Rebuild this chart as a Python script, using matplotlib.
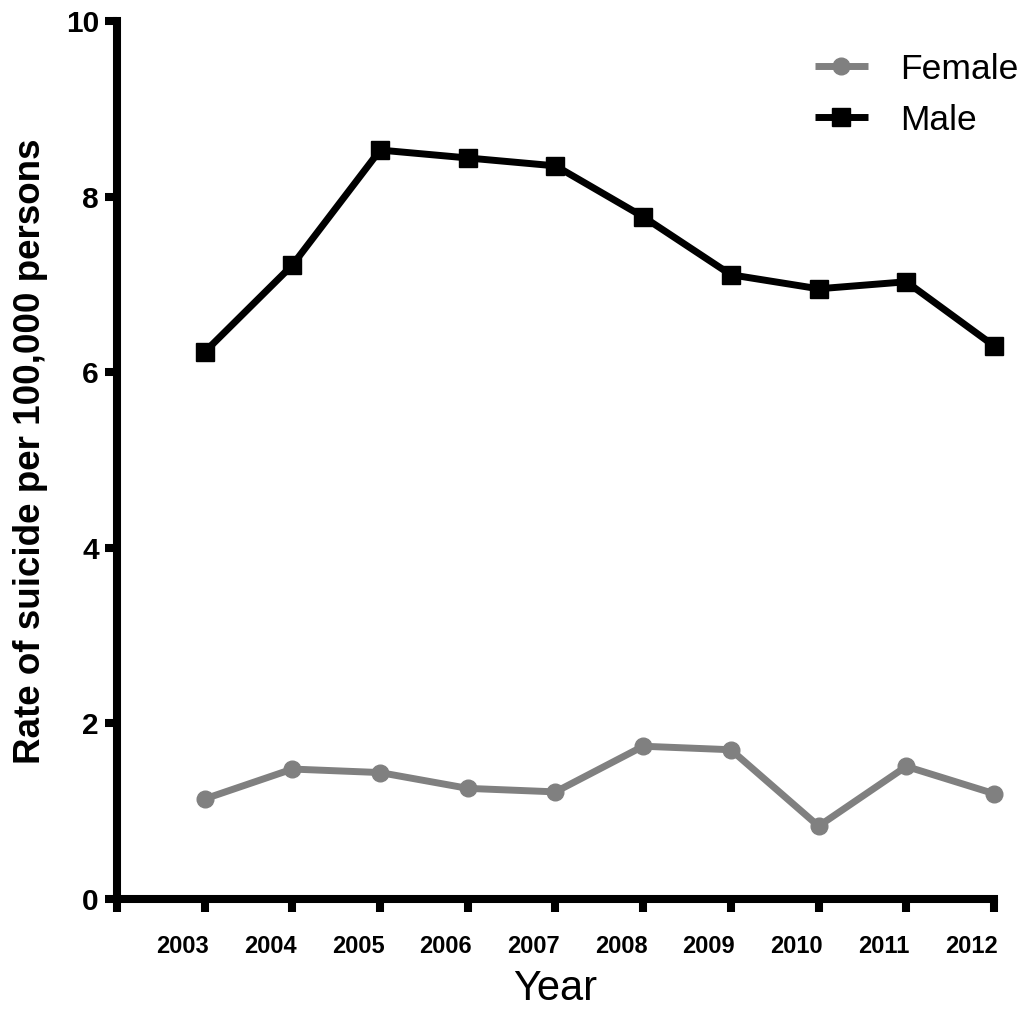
import matplotlib
matplotlib.use("Agg")
import matplotlib.pyplot as plt
from matplotlib.transforms import ScaledTranslation

years = [2003, 2004, 2005, 2006, 2007, 2008, 2009, 2010, 2011, 2012]
female = [1.14, 1.48, 1.44, 1.26, 1.22, 1.74, 1.70, 0.83, 1.51, 1.20]
male = [6.23, 7.22, 8.53, 8.44, 8.35, 7.77, 7.11, 6.95, 7.03, 6.30]
yticks = [0, 2, 4, 6, 8, 10]

plt.rcParams['font.family'] = ['Liberation Sans', 'DejaVu Sans']

fig = plt.figure(figsize=(10.24, 10.21), dpi=100)
ax = fig.add_axes([117/1024, 1-899/1021, (994-117)/1024, (899-21)/1021])

ax.plot(years, female, color='#808080', lw=5, marker='o', ms=12, label='Female',
        solid_capstyle='butt', clip_on=False, zorder=3)
ax.plot(years, male, color='black', lw=5, marker='s', ms=13, label='Male',
        solid_capstyle='butt', clip_on=False, zorder=3)

ax.set_xlim(2002, 2012)
ax.set_ylim(0, 10)
ax.set_yticks(yticks)
ax.set_yticklabels([str(v) for v in yticks], fontsize=21.5, fontweight='bold')
ax.set_xticks([2002] + years)
ax.set_xticklabels([''] + [str(y) for y in years], fontsize=17, fontweight='bold')

for s in ['top', 'right']:
    ax.spines[s].set_visible(False)
for s in ['left', 'bottom']:
    ax.spines[s].set_linewidth(5.8)
    ax.spines[s].set_capstyle('projecting')

ax.tick_params(axis='both', direction='out', length=9, width=5.8, color='black')
ax.tick_params(axis='x', pad=17)
ax.tick_params(axis='y', pad=4)

off = ScaledTranslation(-22/100, 0, fig.dpi_scale_trans)
for lab in ax.get_xticklabels():
    lab.set_transform(lab.get_transform() + off)

ax.set_ylabel('Rate of suicide per 100,000 persons', fontsize=26.5, fontweight='bold', labelpad=13)
ax.yaxis.label.set_transform(ax.yaxis.label.get_transform() + ScaledTranslation(0, 9/100, fig.dpi_scale_trans))
ax.set_xlabel('Year', fontsize=30, labelpad=8)

leg = ax.legend(loc='upper right', bbox_to_anchor=(1.064, 1.0), frameon=False,
                fontsize=25.5, handlelength=1.5, handletextpad=0.9, labelspacing=0.5)

fig.savefig('out.png', dpi=100)
